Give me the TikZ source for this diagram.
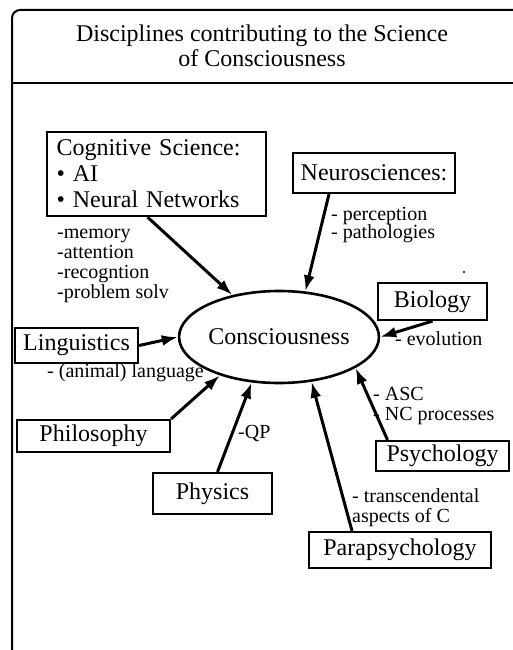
\documentclass[tikz,border=0pt]{standalone}
\usepackage{fontspec}
\setmainfont{Liberation Serif}
\usetikzlibrary{shapes.geometric, arrows.meta}
\tikzset{
	discbox/.style = {draw, line width=2.2pt, inner sep=0pt, font=\fontsize{24}{26}\selectfont},
	remark/.style = {inner sep=0pt, anchor=west, align=left, font=\fontsize{20}{20}\selectfont},
	feed/.style = {line width=3pt, -{Latex[length=16pt, width=11pt]}}
}
\newcommand{\discipline}[6]{
	\node [discbox, minimum width=#4, minimum height=#5] (#1) at (#2 ,#3) {#6};
}

\begin{document}
\begin{tikzpicture}[x=1pt, y=-1pt]
\useasboundingbox (0 ,0) rectangle (513 ,650);

% frame and title
\draw [line width=2pt, rounded corners=8pt] (12 ,652) -- (12 ,10) -- (515 ,10);
\draw [line width=2pt] (12 ,83) -- (515 ,83);
\node [align=center, font=\fontsize{24}{25}\selectfont] (title) at (262 ,46) {Disciplines contributing to the Science\\of Consciousness};

% centre
\node [ellipse, draw, line width=2.6pt, minimum width=182pt, minimum height=92pt, inner sep=0pt, font=\fontsize{24}{26}\selectfont] (cons) at (279 ,337) {Consciousness};

% disciplines
\node [discbox, align=left, text width=200pt, inner xsep=9.5pt, minimum height=84pt] (cog) at (156.5 ,174) {Cognitive Science:\\\textbullet\ AI\\\textbullet\ Neural Networks};
\discipline{neuro}{374}{173}{162}{40}{Neurosciences:}
\discipline{bio}{432.5}{301.5}{109}{37}{Biology}
\discipline{ling}{76.5}{345.5}{123}{35}{Linguistics}
\discipline{phil}{93.5}{436}{153}{32}{Philosophy}
\discipline{phys}{212.5}{493.5}{119}{41}{Physics}
\discipline{psy}{442.5}{456}{133}{30}{Psychology}
\discipline{para}{400}{550}{182}{36}{Parapsychology}

% arrows into the centre
\draw [feed] ([xshift=-9pt]cog.south) -- (cons.138);
\draw [feed] ([xshift=-45pt]neuro.south) -- (cons.60);
\draw [feed] (bio.south) -- (cons.0);
\draw [feed] (ling.east) -- (cons.180);
\draw [feed] (phil.north east) -- (cons.213);
\draw [feed] ([xshift=5pt]phys.north) -- (cons.239);
\draw [feed] ([xshift=-48pt]para.north) -- (cons.306);
\draw [feed] ([xshift=-55pt]psy.north) -- (cons.338);

% remarks
\node [remark] (cogtxt) at (57 ,266) {-memory\\-attention\\-recogntion\\-problem solv};
\node [remark] (neurotxt) at (331 ,225) {- perception\\[-2pt]- pathologies};
\node [remark] (biotxt) at (395 ,339) {- evolution};
\node [remark] (lingtxt) at (47 ,373) {- (animal) language};
\node [remark] (phystxt) at (238 ,433) {-QP};
\node [remark] (psytxt) at (373 ,406) {- ASC\\- NC processes};
\node [remark] (paratxt) at (352 ,508) {- transcendental\\aspects of C};
\fill (464 ,272) circle (1.2pt);

\end{tikzpicture}
\end{document}
